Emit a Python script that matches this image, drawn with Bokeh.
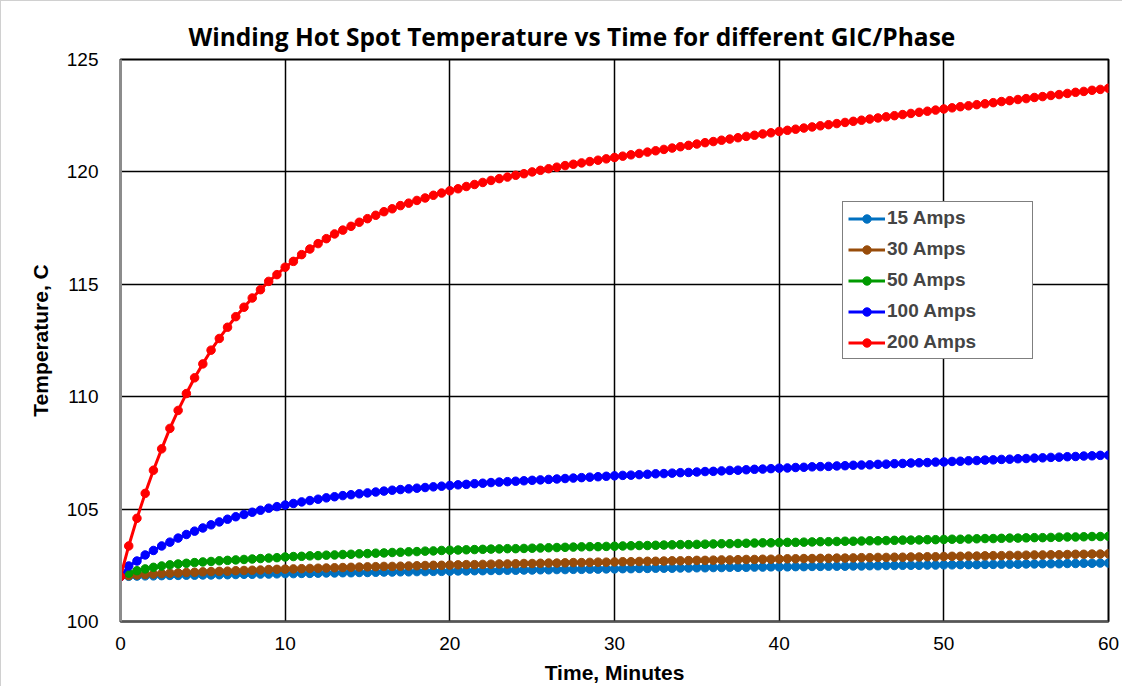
from bokeh.plotting import figure
from bokeh.models import Legend, LegendItem, FixedTicker, Range1d
from bokeh.embed import file_html
from bokeh.resources import INLINE

# ---------------- data ----------------
time_min = [i * 0.5 for i in range(121)]

amps_15 = [
    102.00, 102.01, 102.02, 102.03, 102.03, 102.04, 102.05, 102.05, 102.06, 102.06,
    102.07, 102.07, 102.08, 102.08, 102.09, 102.10, 102.10, 102.11, 102.11, 102.12,
    102.13, 102.13, 102.14, 102.14, 102.15, 102.16, 102.16, 102.17, 102.17, 102.18,
    102.18, 102.19, 102.20, 102.20, 102.21, 102.21, 102.22, 102.22, 102.23, 102.23,
    102.24, 102.25, 102.25, 102.26, 102.26, 102.27, 102.27, 102.28, 102.28, 102.29,
    102.29, 102.30, 102.30, 102.31, 102.31, 102.32, 102.32, 102.33, 102.33, 102.34,
    102.34, 102.35, 102.35, 102.36, 102.36, 102.37, 102.37, 102.37, 102.38, 102.38,
    102.39, 102.39, 102.40, 102.40, 102.41, 102.41, 102.41, 102.42, 102.42, 102.43,
    102.43, 102.43, 102.44, 102.44, 102.45, 102.45, 102.46, 102.46, 102.46, 102.47,
    102.47, 102.48, 102.48, 102.49, 102.49, 102.50, 102.50, 102.50, 102.51, 102.51,
    102.52, 102.52, 102.53, 102.53, 102.53, 102.54, 102.54, 102.55, 102.55, 102.55,
    102.56, 102.56, 102.57, 102.57, 102.57, 102.58, 102.58, 102.59, 102.59, 102.60,
    102.60,
]

amps_30 = [
    102.00, 102.04, 102.07, 102.09, 102.11, 102.13, 102.15, 102.16, 102.18, 102.19,
    102.21, 102.22, 102.23, 102.24, 102.26, 102.27, 102.28, 102.29, 102.31, 102.32,
    102.33, 102.34, 102.35, 102.36, 102.37, 102.38, 102.39, 102.40, 102.41, 102.42,
    102.43, 102.44, 102.45, 102.45, 102.46, 102.47, 102.48, 102.49, 102.50, 102.50,
    102.51, 102.52, 102.53, 102.53, 102.54, 102.55, 102.56, 102.56, 102.57, 102.58,
    102.58, 102.59, 102.60, 102.60, 102.61, 102.62, 102.62, 102.63, 102.64, 102.64,
    102.65, 102.66, 102.66, 102.67, 102.68, 102.68, 102.69, 102.70, 102.70, 102.71,
    102.72, 102.72, 102.73, 102.74, 102.74, 102.75, 102.76, 102.76, 102.77, 102.77,
    102.78, 102.79, 102.79, 102.80, 102.80, 102.81, 102.81, 102.82, 102.82, 102.83,
    102.84, 102.84, 102.85, 102.85, 102.86, 102.86, 102.87, 102.87, 102.88, 102.88,
    102.89, 102.90, 102.90, 102.91, 102.91, 102.92, 102.93, 102.93, 102.94, 102.94,
    102.95, 102.96, 102.96, 102.97, 102.97, 102.98, 102.99, 102.99, 103.00, 103.00,
    103.01,
]

amps_50 = [
    102.00, 102.15, 102.26, 102.34, 102.41, 102.47, 102.52, 102.56, 102.59, 102.62,
    102.65, 102.67, 102.70, 102.72, 102.74, 102.76, 102.78, 102.80, 102.82, 102.84,
    102.87, 102.89, 102.90, 102.92, 102.93, 102.95, 102.96, 102.98, 102.99, 103.01,
    103.02, 103.04, 103.05, 103.07, 103.08, 103.10, 103.11, 103.13, 103.14, 103.16,
    103.17, 103.18, 103.19, 103.20, 103.21, 103.22, 103.23, 103.24, 103.24, 103.25,
    103.26, 103.27, 103.28, 103.29, 103.30, 103.31, 103.32, 103.33, 103.33, 103.34,
    103.35, 103.36, 103.37, 103.38, 103.38, 103.39, 103.40, 103.41, 103.42, 103.42,
    103.43, 103.44, 103.45, 103.46, 103.46, 103.47, 103.48, 103.49, 103.50, 103.50,
    103.51, 103.52, 103.52, 103.53, 103.54, 103.55, 103.55, 103.56, 103.57, 103.57,
    103.58, 103.59, 103.59, 103.60, 103.61, 103.62, 103.62, 103.63, 103.64, 103.64,
    103.65, 103.66, 103.66, 103.67, 103.68, 103.69, 103.69, 103.70, 103.71, 103.71,
    103.72, 103.73, 103.73, 103.74, 103.75, 103.76, 103.76, 103.77, 103.78, 103.78,
    103.79,
]

amps_100 = [
    102.00, 102.47, 102.69, 102.96, 103.16, 103.36, 103.53, 103.71, 103.87, 104.02,
    104.16, 104.30, 104.43, 104.55, 104.66, 104.76, 104.86, 104.95, 105.04, 105.11,
    105.18, 105.25, 105.32, 105.38, 105.44, 105.50, 105.55, 105.60, 105.64, 105.68,
    105.72, 105.76, 105.80, 105.84, 105.87, 105.90, 105.93, 105.96, 105.99, 106.02,
    106.05, 106.08, 106.10, 106.13, 106.15, 106.18, 106.20, 106.22, 106.24, 106.26,
    106.28, 106.30, 106.32, 106.34, 106.36, 106.38, 106.40, 106.42, 106.44, 106.46,
    106.48, 106.50, 106.51, 106.53, 106.55, 106.57, 106.58, 106.60, 106.62, 106.63,
    106.65, 106.67, 106.68, 106.70, 106.72, 106.73, 106.75, 106.77, 106.78, 106.80,
    106.82, 106.83, 106.85, 106.86, 106.88, 106.89, 106.90, 106.92, 106.93, 106.95,
    106.96, 106.97, 106.99, 107.00, 107.02, 107.03, 107.05, 107.06, 107.07, 107.09,
    107.10, 107.12, 107.13, 107.15, 107.16, 107.18, 107.19, 107.21, 107.22, 107.24,
    107.25, 107.27, 107.28, 107.30, 107.31, 107.33, 107.34, 107.36, 107.37, 107.39,
    107.40,
]

amps_200 = [
    102.00, 103.36, 104.59, 105.70, 106.73, 107.68, 108.59, 109.39, 110.14, 110.84,
    111.46, 112.07, 112.59, 113.09, 113.56, 113.98, 114.39, 114.76, 115.13, 115.43,
    115.76, 116.02, 116.32, 116.57, 116.81, 117.03, 117.24, 117.41, 117.58, 117.76,
    117.92, 118.07, 118.23, 118.36, 118.50, 118.61, 118.73, 118.84, 118.96, 119.06,
    119.16, 119.25, 119.35, 119.44, 119.53, 119.62, 119.70, 119.77, 119.85, 119.92,
    120.00, 120.07, 120.14, 120.21, 120.28, 120.34, 120.40, 120.46, 120.52, 120.58,
    120.64, 120.70, 120.76, 120.82, 120.88, 120.94, 121.00, 121.06, 121.12, 121.18,
    121.24, 121.30, 121.35, 121.41, 121.46, 121.52, 121.58, 121.63, 121.69, 121.74,
    121.80, 121.85, 121.90, 121.95, 122.00, 122.05, 122.10, 122.15, 122.20, 122.25,
    122.30, 122.35, 122.40, 122.45, 122.50, 122.55, 122.60, 122.65, 122.70, 122.75,
    122.80, 122.85, 122.90, 122.94, 122.99, 123.03, 123.08, 123.13, 123.17, 123.22,
    123.26, 123.31, 123.35, 123.40, 123.44, 123.49, 123.54, 123.58, 123.63, 123.67,
    123.72,
]

series_labels = ["15 Amps", "30 Amps", "50 Amps", "100 Amps", "200 Amps"]
series_values = [amps_15, amps_30, amps_50, amps_100, amps_200]
series_colors = ["#0070C0", "#984C0A", "#009A00", "#0000FF", "#FF0000"]

x_ticks = [0, 10, 20, 30, 40, 50, 60]
y_ticks = [100, 105, 110, 115, 120, 125]

# ---------------- figure ----------------
p = figure(
    width=1122, height=686,
    output_backend="svg", toolbar_location=None,
    x_range=Range1d(0, 60), y_range=Range1d(100, 125),
    min_border_left=119, min_border_right=15,
    min_border_top=58, min_border_bottom=66,
)
p.styles = {"border-top": "1px solid #d0d0d0", "border-left": "1px solid #d0d0d0"}

p.title.text = "Winding Hot Spot Temperature vs Time for different GIC/Phase"
p.title.text_font = "Open Sans"
p.title.text_font_style = "bold"
p.title.text_font_size = "24.5px"
p.title.text_color = "black"
p.title.align = "left"
p.title.offset = 68
p.title.standoff = 13

p.outline_line_color = "black"
p.outline_line_width = 2

for ax in (p.xaxis[0], p.yaxis[0]):
    ax.major_tick_line_color = None
    ax.minor_tick_line_color = None
    ax.major_tick_out = 0
    ax.major_tick_in = 0
    ax.major_label_text_font = "Liberation Sans"
    ax.major_label_text_font_size = "19px"
    ax.major_label_text_color = "black"
    ax.axis_label_text_font = "Liberation Sans"
    ax.axis_label_text_font_style = "bold"
    ax.axis_label_text_font_size = "21px"
    ax.axis_label_text_color = "black"

p.xaxis[0].ticker = FixedTicker(ticks=x_ticks)
p.yaxis[0].ticker = FixedTicker(ticks=y_ticks)
p.xaxis[0].axis_label = "Time, Minutes"
p.yaxis[0].axis_label = "Temperature, C"
p.xaxis[0].major_label_standoff = 15
p.yaxis[0].major_label_standoff = 22
p.xaxis[0].axis_label_standoff = 8
p.yaxis[0].axis_label_standoff = 12
p.xaxis[0].axis_line_color = "#555555"
p.xaxis[0].axis_line_width = 2
p.yaxis[0].axis_line_color = "#8c8c8c"
p.yaxis[0].axis_line_width = 3

p.xgrid.ticker = FixedTicker(ticks=x_ticks)
p.ygrid.ticker = FixedTicker(ticks=y_ticks)
for g in (p.xgrid[0], p.ygrid[0]):
    g.grid_line_color = "black"
    g.grid_line_width = 1.5

items = []
for label, vals, color in zip(series_labels, series_values, series_colors):
    r1 = p.line(time_min, vals, line_color=color, line_width=3)
    r2 = p.scatter(time_min, vals, marker="circle", size=8.5,
                   fill_color=color, line_color=color)
    items.append(LegendItem(label=label, renderers=[r1, r2]))

legend = Legend(
    items=items,
    location=(722, 262),
    label_text_font="Liberation Sans",
    label_text_font_style="bold",
    label_text_font_size="19px",
    label_height=21, glyph_height=21, glyph_width=37, label_width=140,
    spacing=9, padding=5, margin=0, label_standoff=2,
    border_line_color="black", border_line_width=1.5,
    background_fill_color="white", background_fill_alpha=1.0,
)
p.add_layout(legend, "center")

open("out.html", "w").write(file_html(p, INLINE))
